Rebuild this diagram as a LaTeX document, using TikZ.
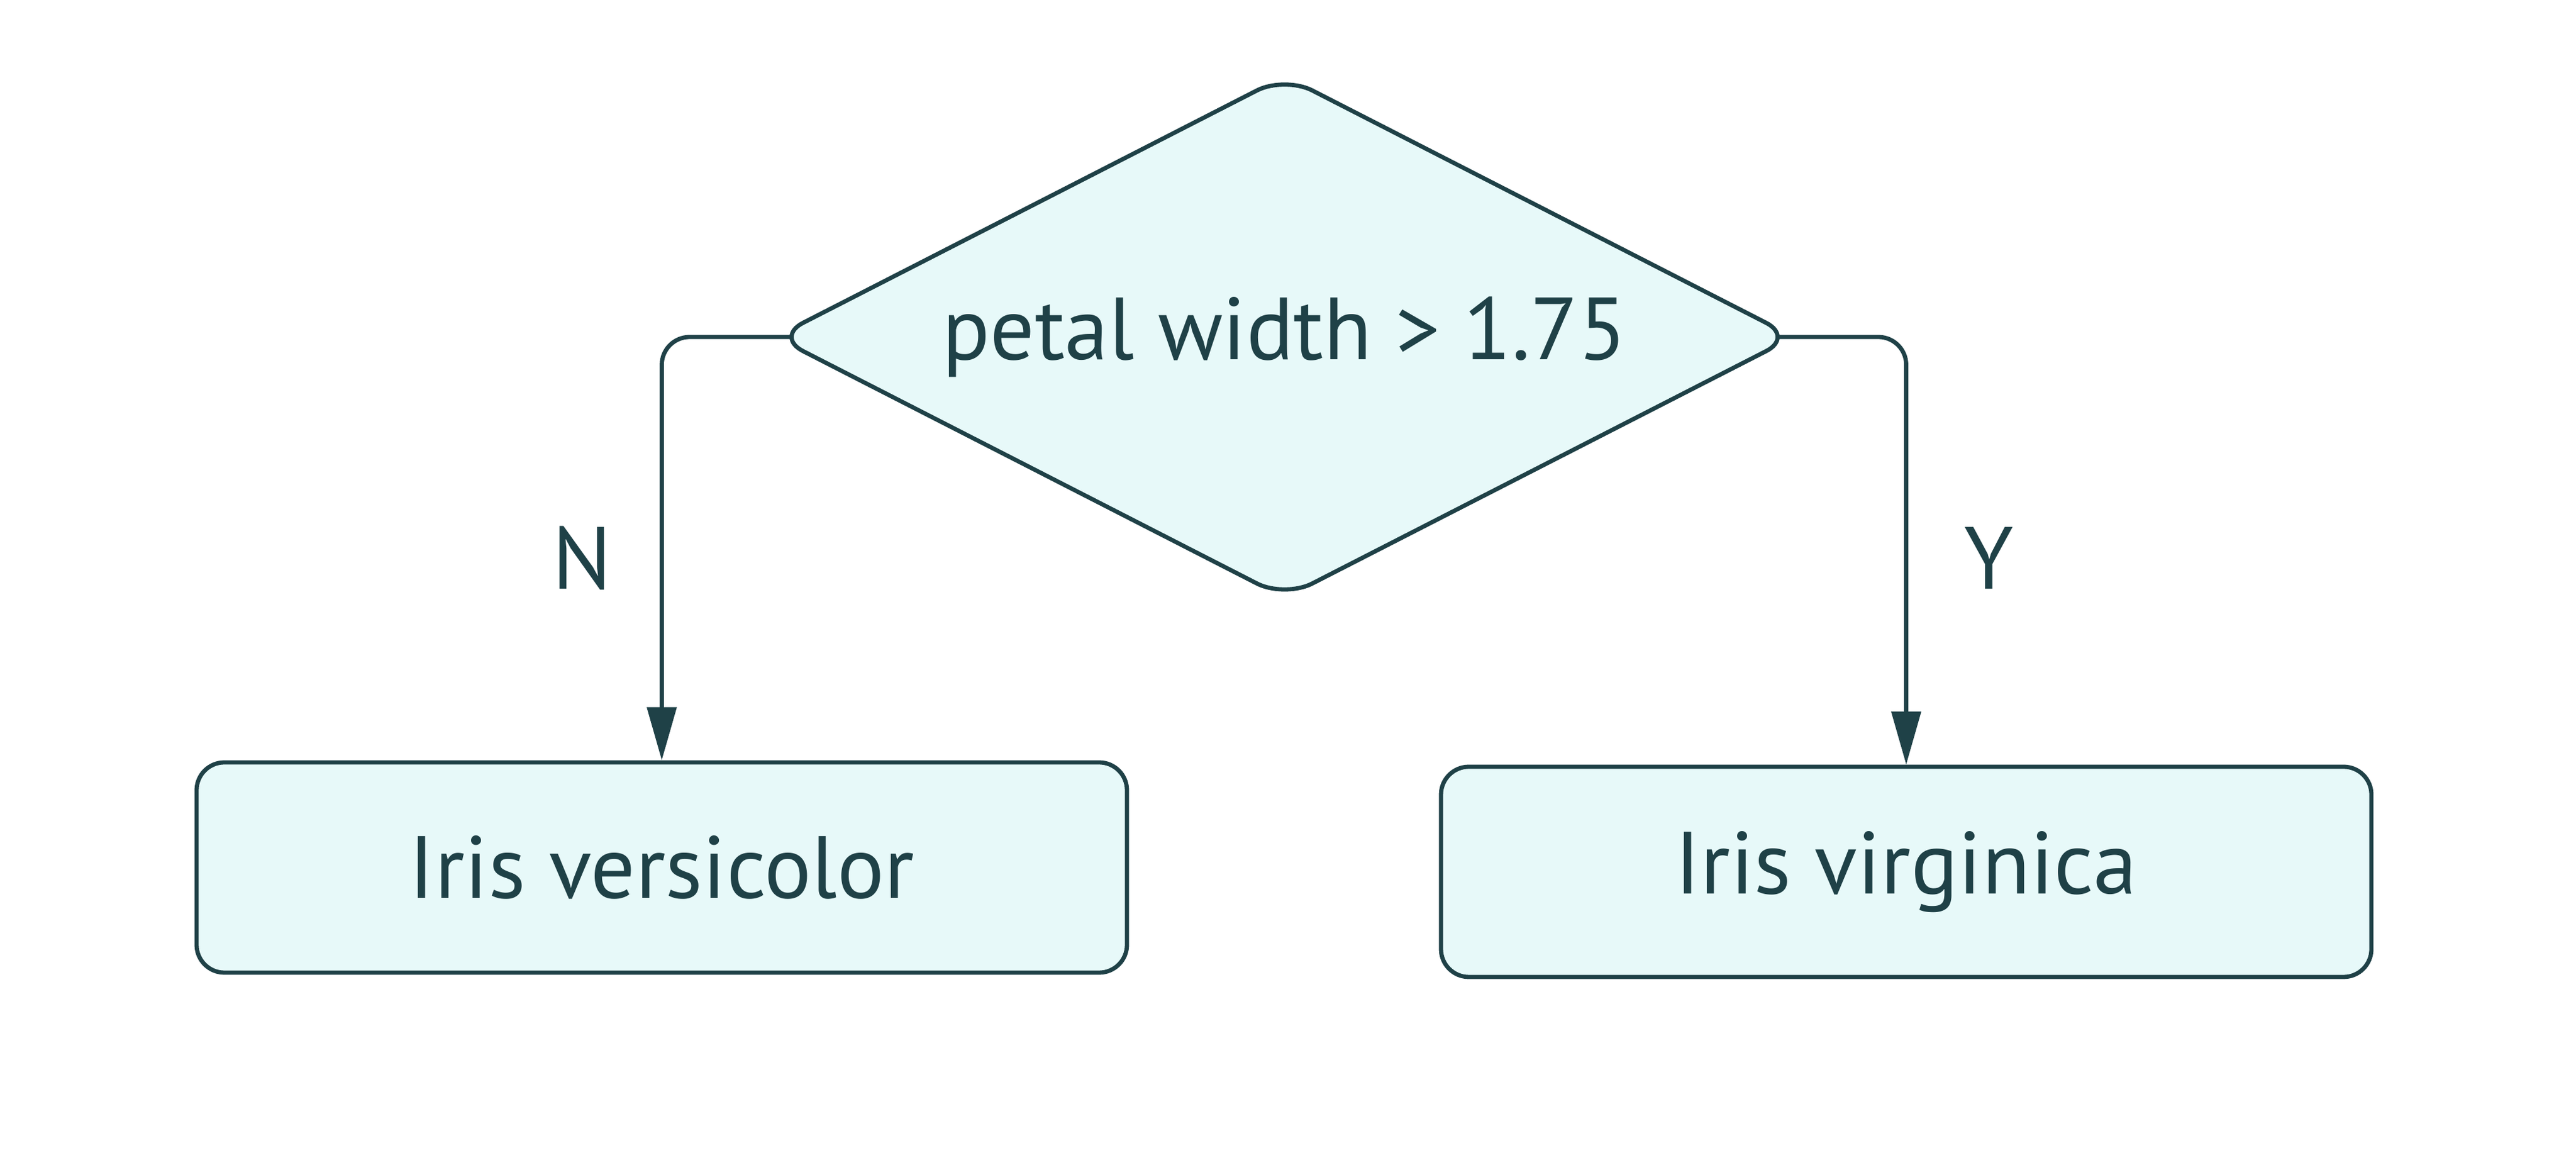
\documentclass[tikz,border=0pt]{standalone}
\usepackage{fontspec}
\setmainfont{PT Sans}
\usetikzlibrary{shapes.geometric,arrows.meta}
\definecolor{ink}{HTML}{1F4147}
\definecolor{paleteal}{HTML}{E7F9F9}
\tikzset{
  base/.style={draw=ink, fill=paleteal, line width=0.068cm, text=ink,
    font=\fontsize{40.6}{48}\selectfont, inner sep=0pt},
  decision/.style={base, diamond, aspect=2, minimum width=16.5cm, minimum height=8.46cm,
    rounded corners=0.5cm},
  leaf/.style={base, rectangle, minimum width=15.05cm, minimum height=3.40cm,
    rounded corners=0.45cm},
  conn/.style={draw=ink, line width=0.068cm, rounded corners=0.45cm,
    -{Triangle[length=0.86cm, width=0.47cm]}},
  edgelabel/.style={text=ink, font=\fontsize{40.6}{48}\selectfont, inner sep=0pt}
}
\begin{document}
\begin{tikzpicture}
\useasboundingbox[fill=white] (0,0) rectangle (41.67,18.76);
\node[decision] (d) at (20.78,13.31) {petal width > 1.75};
\node[leaf] (l) at (10.705,4.73) {Iris versicolor};
\node[leaf] (r) at (30.835,4.66) {Iris virginica};
\draw[conn] ([xshift=0.3cm]d.west) -| (l.north);
\draw[conn] ([xshift=-0.3cm]d.east) -| (r.north);
\node[edgelabel] (n) at (9.42,9.73) {N};
\node[edgelabel] (y) at (32.17,9.73) {Y};
\end{tikzpicture}
\end{document}
